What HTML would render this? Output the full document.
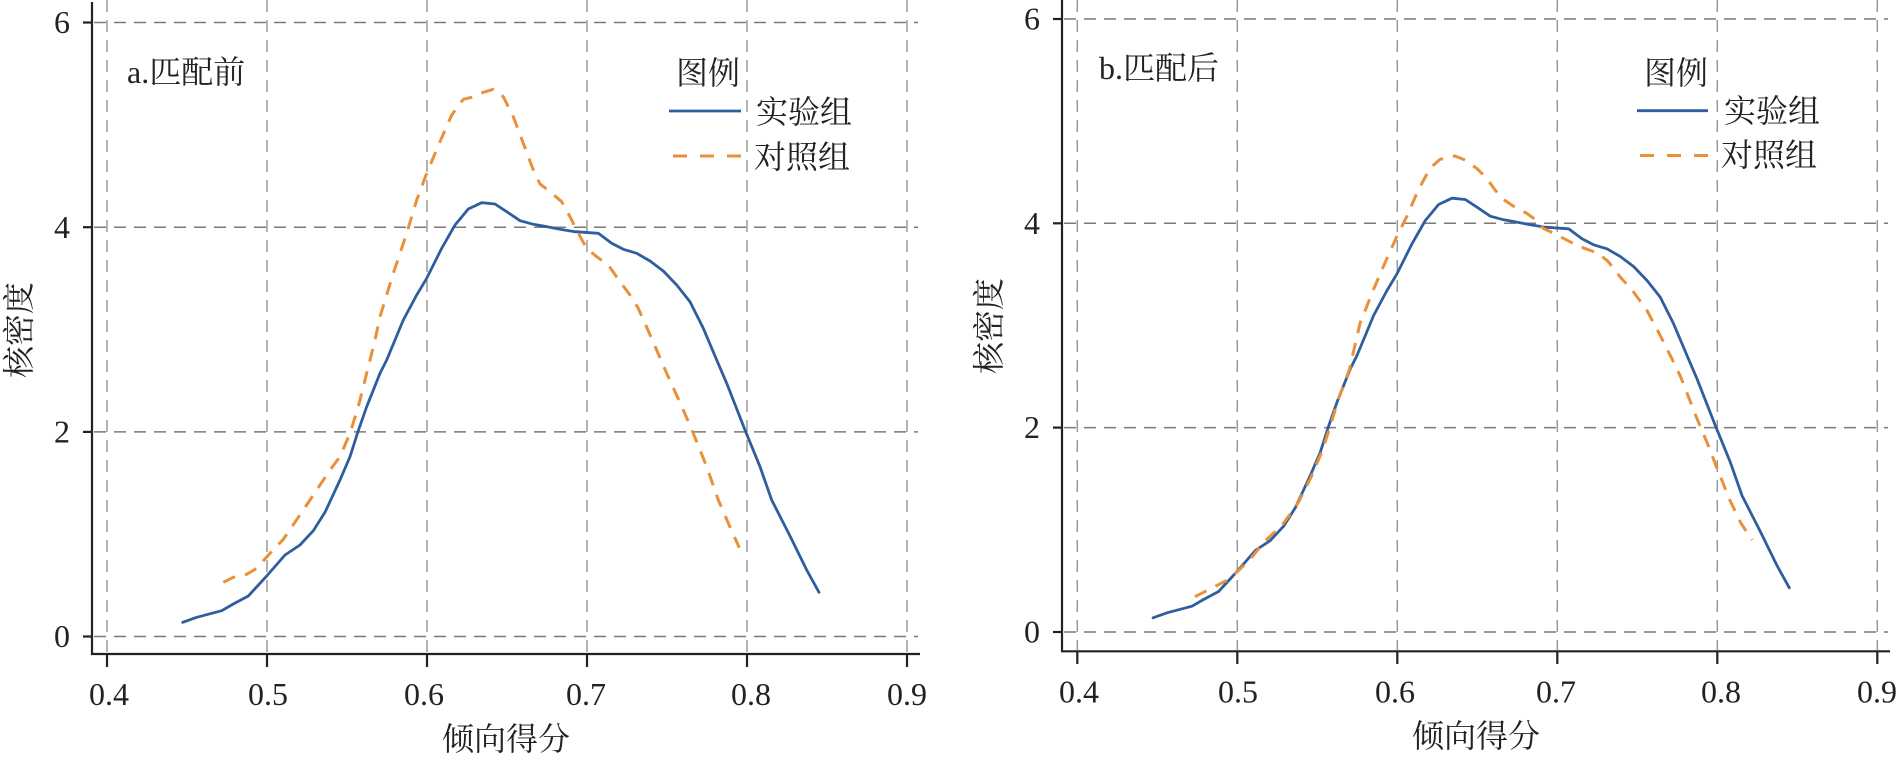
<!DOCTYPE html>
<html>
<head>
<meta charset="utf-8">
<style>
html,body{margin:0;padding:0;background:#fff;}
svg{display:block;}
text{font-family:"Liberation Serif","Noto Serif CJK SC",serif;fill:#222;}
</style>
</head>
<body>
<svg width="1897" height="760" viewBox="0 0 1897 760" xmlns="http://www.w3.org/2000/svg">
<rect width="1897" height="760" fill="#fff"/>

<!-- ================= LEFT PANEL ================= -->
<g>
  <g stroke="#9a9a9a" stroke-width="1.5" stroke-dasharray="12 8">
    <line x1="107" y1="0" x2="107" y2="653"/>
    <line x1="267" y1="0" x2="267" y2="653"/>
    <line x1="427" y1="0" x2="427" y2="653"/>
    <line x1="587" y1="0" x2="587" y2="653"/>
    <line x1="747" y1="0" x2="747" y2="653"/>
    <line x1="907" y1="0" x2="907" y2="653"/>
  </g>
  <g stroke="#7a7a7a" stroke-width="1.5" stroke-dasharray="12 8">
    <line x1="94" y1="22.5" x2="918" y2="22.5"/>
    <line x1="94" y1="227.2" x2="918" y2="227.2"/>
    <line x1="94" y1="431.9" x2="918" y2="431.9"/>
    <line x1="94" y1="636.5" x2="918" y2="636.5"/>
  </g>
  <g stroke="#222" stroke-width="2.2">
    <line x1="92" y1="2" x2="92" y2="655"/>
    <line x1="91" y1="654" x2="920" y2="654"/>
    <line x1="83" y1="22.5" x2="92" y2="22.5"/>
    <line x1="83" y1="227.2" x2="92" y2="227.2"/>
    <line x1="83" y1="431.9" x2="92" y2="431.9"/>
    <line x1="83" y1="636.5" x2="92" y2="636.5"/>
    <line x1="107" y1="654" x2="107" y2="667"/>
    <line x1="267" y1="654" x2="267" y2="667"/>
    <line x1="427" y1="654" x2="427" y2="667"/>
    <line x1="587" y1="654" x2="587" y2="667"/>
    <line x1="747" y1="654" x2="747" y2="667"/>
    <line x1="907" y1="654" x2="907" y2="667"/>
  </g>
  <g font-size="32" text-anchor="end">
    <text x="70" y="33">6</text>
    <text x="70" y="238">4</text>
    <text x="70" y="442.5">2</text>
    <text x="70" y="647">0</text>
  </g>
  <g font-size="32" text-anchor="middle">
    <text x="109" y="705">0.4</text>
    <text x="268" y="705">0.5</text>
    <text x="424" y="705">0.6</text>
    <text x="586" y="705">0.7</text>
    <text x="751" y="705">0.8</text>
    <text x="907" y="705">0.9</text>
  </g>
  <text x="506" y="750" font-size="32" text-anchor="middle">倾向得分</text>
  <text transform="translate(30,330) rotate(-90)" font-size="32" text-anchor="middle">核密度</text>
  <text x="127" y="83" font-size="32">a.匹配前</text>
  <text x="676" y="84" font-size="32">图例</text>
  <line x1="669" y1="111" x2="741" y2="111" stroke="#2f5e9e" stroke-width="2.8"/>
  <text x="756" y="123" font-size="32">实验组</text>
  <line x1="673" y1="156" x2="745" y2="156" stroke="#e8913a" stroke-width="3" stroke-dasharray="14 13"/>
  <text x="754" y="168" font-size="32">对照组</text>

  <polyline id="blueL" fill="none" stroke="#2f5e9e" stroke-width="2.8" stroke-linejoin="round" stroke-linecap="round"
    points="182.7,622.3 196.7,617.3 221.7,610.7 233.3,604 248.3,596 266.7,576 285,555 300,545 313.3,530.7 325,512.3 340,480 350,456.7 358.3,430.7 366.7,406.7 380,373.3 386.7,360 403.3,320 416.7,295 426.7,278.3 441.7,248.3 455,225 468.3,209 481.7,202.7 495,204 506.7,211.7 520,220.7 533.3,224.3 543.3,226 560,229.3 575,231.7 598.3,233.3 611.7,243.3 623.3,249.3 636.7,253.3 650,261 663.3,271 676.7,285 690,301.7 703.3,328.3 716.7,360 726.7,383.3 745,430 760,466.7 771.7,500 790,536 806.7,570 819,592.3"/>
  <polyline fill="none" stroke="#e8913a" stroke-width="3" stroke-linejoin="round" stroke-dasharray="13 10"
    points="223.3,582.3 233.3,577.3 246.7,574.3 256.7,568.3 270,553.3 283.3,539.3 303.3,510 310,500 330,470 340,456.7 350,433.3 358.3,406.7 366.7,373.3 375,340 380,316.7 393.3,273.3 406.7,233.3 416.7,200 426.7,173.3 440,141.7 451.7,115 463.3,99.3 471.7,97.3 483.3,92.3 493.3,89.3 503.3,96.7 513.3,116.7 523.3,143.3 533.3,170 540,184 550,191.7 561.7,201.7 570,216.7 578.3,233.3 586.7,248.3 596.7,256.7 608.3,265 620,281.7 630,295 638.3,308.3 651,337 666.7,373.3 683.3,410 693.3,433.3 706.7,466.7 718.3,500 730,527 739.3,547.7"/>
</g>

<!-- ================= RIGHT PANEL ================= -->
<g>
  <g stroke="#9a9a9a" stroke-width="1.5" stroke-dasharray="12 8">
    <line x1="1077.3" y1="0" x2="1077.3" y2="650"/>
    <line x1="1237.3" y1="0" x2="1237.3" y2="650"/>
    <line x1="1397.3" y1="0" x2="1397.3" y2="650"/>
    <line x1="1557.3" y1="0" x2="1557.3" y2="650"/>
    <line x1="1717.3" y1="0" x2="1717.3" y2="650"/>
    <line x1="1877.3" y1="0" x2="1877.3" y2="650"/>
  </g>
  <g stroke="#7a7a7a" stroke-width="1.5" stroke-dasharray="12 8">
    <line x1="1064" y1="19" x2="1888" y2="19"/>
    <line x1="1064" y1="223.3" x2="1888" y2="223.3"/>
    <line x1="1064" y1="427.6" x2="1888" y2="427.6"/>
    <line x1="1064" y1="632" x2="1888" y2="632"/>
  </g>
  <g stroke="#222" stroke-width="2.2">
    <line x1="1062" y1="0" x2="1062" y2="652"/>
    <line x1="1061" y1="651.3" x2="1890" y2="651.3"/>
    <line x1="1053" y1="19" x2="1062" y2="19"/>
    <line x1="1053" y1="223.3" x2="1062" y2="223.3"/>
    <line x1="1053" y1="427.6" x2="1062" y2="427.6"/>
    <line x1="1053" y1="632" x2="1062" y2="632"/>
    <line x1="1077.3" y1="651" x2="1077.3" y2="664"/>
    <line x1="1237.3" y1="651" x2="1237.3" y2="664"/>
    <line x1="1397.3" y1="651" x2="1397.3" y2="664"/>
    <line x1="1557.3" y1="651" x2="1557.3" y2="664"/>
    <line x1="1717.3" y1="651" x2="1717.3" y2="664"/>
    <line x1="1877.3" y1="651" x2="1877.3" y2="664"/>
  </g>
  <g font-size="32" text-anchor="end">
    <text x="1040" y="29.5">6</text>
    <text x="1040" y="234">4</text>
    <text x="1040" y="438">2</text>
    <text x="1040" y="642.5">0</text>
  </g>
  <g font-size="32" text-anchor="middle">
    <text x="1079" y="702.5">0.4</text>
    <text x="1238" y="702.5">0.5</text>
    <text x="1395" y="702.5">0.6</text>
    <text x="1556" y="702.5">0.7</text>
    <text x="1721" y="702.5">0.8</text>
    <text x="1877" y="702.5">0.9</text>
  </g>
  <text x="1476" y="747" font-size="32" text-anchor="middle">倾向得分</text>
  <text transform="translate(1000,326) rotate(-90)" font-size="32" text-anchor="middle">核密度</text>
  <text x="1099" y="79" font-size="32">b.匹配后</text>
  <text x="1644" y="84" font-size="32">图例</text>
  <line x1="1637" y1="110.7" x2="1708" y2="110.7" stroke="#2f5e9e" stroke-width="2.8"/>
  <text x="1724" y="122" font-size="32">实验组</text>
  <line x1="1640" y1="155.5" x2="1712" y2="155.5" stroke="#e8913a" stroke-width="3" stroke-dasharray="14 13"/>
  <text x="1721" y="166" font-size="32">对照组</text>

  <use href="#blueL" transform="translate(970.3,-4.5)"/>
  <polyline fill="none" stroke="#e8913a" stroke-width="3" stroke-linejoin="round" stroke-dasharray="13 10"
    points="1194.9,596.7 1226.2,580.7 1237.4,571.7 1250.9,558.3 1264.3,541.7 1282.2,525 1297.9,503.3 1311.3,476.7 1322.5,450 1330.1,426.7 1338.1,400 1349.3,370 1360,323.3 1373.3,290 1383.3,266.7 1396.7,236.7 1406.7,216.7 1418.3,190 1430,168.3 1440,159.3 1455,156 1465,160 1476.7,168.3 1486.7,178.3 1495,190 1503.3,199.3 1516.7,208.3 1526.7,213.3 1535,219.3 1543.3,228.3 1555,234 1570,241.7 1580,246.7 1598.3,253.3 1608.3,261.7 1620,276.7 1633.3,291.7 1646.7,310 1658.3,331.7 1671.7,358.3 1680.6,376.7 1696.2,416.7 1707.4,443.3 1716.4,466.7 1729.8,500 1741,523.3 1752.2,540"/>
</g>
</svg>
</body>
</html>
